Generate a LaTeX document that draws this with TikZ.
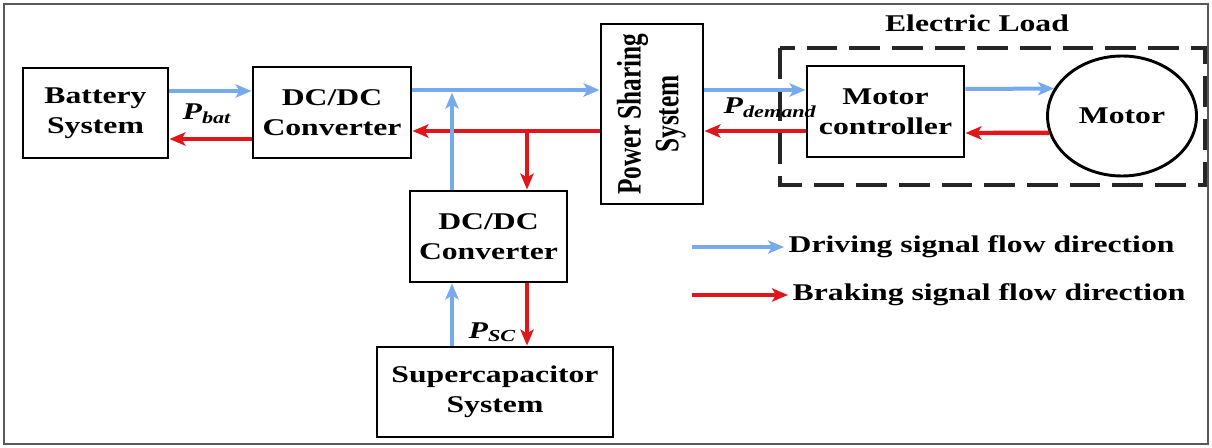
\documentclass[tikz,border=0pt]{standalone}
\usepackage{fontspec}
\setmainfont{Liberation Serif}[FakeStretch=1.32]
\newfontfamily\pssfont{Liberation Serif}
\usetikzlibrary{arrows.meta,shapes.geometric}
\definecolor{drivecol}{RGB}{118,170,236}
\definecolor{brakecol}{RGB}{226,22,26}
\tikzset{
  txt/.style={font=\fontsize{18}{22.5}\selectfont\bfseries, align=center},
  blockbox/.style={txt, draw=black, line width=2.2pt, fill=white, inner sep=0pt},
  drive/.style={draw=drivecol, line width=3pt, -{Stealth[length=12pt,width=10pt,inset=3pt]}},
  brake/.style={draw=brakecol, line width=3.3pt, -{Stealth[length=12pt,width=10pt,inset=3pt]}},
  loadbox/.style={draw=black!85, line width=2.4pt, dash pattern=on 23pt off 9pt},
}
\begin{document}
\begin{tikzpicture}[x=0.75pt,y=-0.75pt]
\useasboundingbox (0,0) rectangle (1212,448);
\draw[black!65, line width=0.9pt] (4,4) rectangle (1208,444);

% electric load frame
\draw[loadbox] (780,48) rectangle (1205,185);
\node[txt] (loadlbl) at (977,23) {Electric Load};

% blocks
\node[blockbox, minimum width=108.75pt, minimum height=67.5pt] (bat) at (95.5,113) {Battery\\System};
\node[blockbox, minimum width=118.5pt, minimum height=68.25pt] (dc1) at (332,112.5) {DC/DC\\Converter};
\node[blockbox, minimum width=76.5pt, minimum height=135pt] (pss) at (652,114)
  {\rotatebox{90}{\scalebox{1}[1.35]{\pssfont\fontsize{19}{21}\selectfont\bfseries\begin{tabular}{@{}c@{}}Power Sharing\\System\end{tabular}}}};
\node[blockbox, minimum width=117.75pt, minimum height=68.25pt] (dc2) at (488.5,236.5) {DC/DC\\Converter};
\node[blockbox, minimum width=177pt, minimum height=67.5pt] (sc) at (495,392) {Supercapacitor\\System};
\node[blockbox, minimum width=117.75pt, minimum height=68.25pt] (mc) at (885.5,111.5) {Motor\\controller};
\node[blockbox, ellipse, minimum width=111.75pt, minimum height=90pt] (motor) at (1122,116) {Motor};

% helper levels
\coordinate (ydA) at (0,91);
\coordinate (yrA) at (0,139);
\coordinate (ydB) at (0,90);
\coordinate (yrB) at (0,131);
\coordinate (ydC) at (0,89);
\coordinate (yrC) at (0,133);
\coordinate (xb) at (452,0);
\coordinate (xr) at (527,0);

% connectors
\draw[drive] (bat.east |- ydA) -- (dc1.west |- ydA);
\draw[brake] (dc1.west |- yrA) -- (bat.east |- yrA);
\draw[drive] (dc1.east |- ydB) -- (pss.west |- ydB);
\draw[brake] (pss.west |- yrB) -- (dc1.east |- yrB);
\draw[drive, shorten >=2pt] (dc2.north -| xb) -- (xb |- ydB);
\draw[brake] (xr |- yrB) -- (dc2.north -| xr);
\draw[drive] (sc.north -| xb) -- (dc2.south -| xb);
\draw[brake] (dc2.south -| xr) -- (sc.north -| xr);
\draw[drive] (pss.east |- ydB) -- (mc.west |- ydB);
\draw[brake] (mc.west |- yrB) -- (pss.east |- yrB);
\draw[drive] (mc.east |- ydC) -- (motor.158);
\draw[brake] (motor.193) -- (mc.east |- yrC);

% power labels
\node[txt, anchor=west] (pbat) at (178,114) {\itshape P\textsubscript{\itshape bat}};
\node[txt, anchor=west] (pdem) at (719,108) {\itshape P\textsubscript{\itshape demand}};
\node[txt, anchor=west] (psc) at (464,332) {\itshape P\textsubscript{\itshape SC}};

% legend
\node[txt, anchor=west] (lgd) at (784,247) {Driving signal flow direction};
\node[txt, anchor=west] (lgb) at (788,295) {Braking signal flow direction};
\coordinate (lgds) at (692,247);
\coordinate (lgbs) at (692,295);
\draw[drive] (lgds) -- (lgd.west);
\draw[brake] (lgbs) -- (lgb.west);
\end{tikzpicture}
\end{document}
